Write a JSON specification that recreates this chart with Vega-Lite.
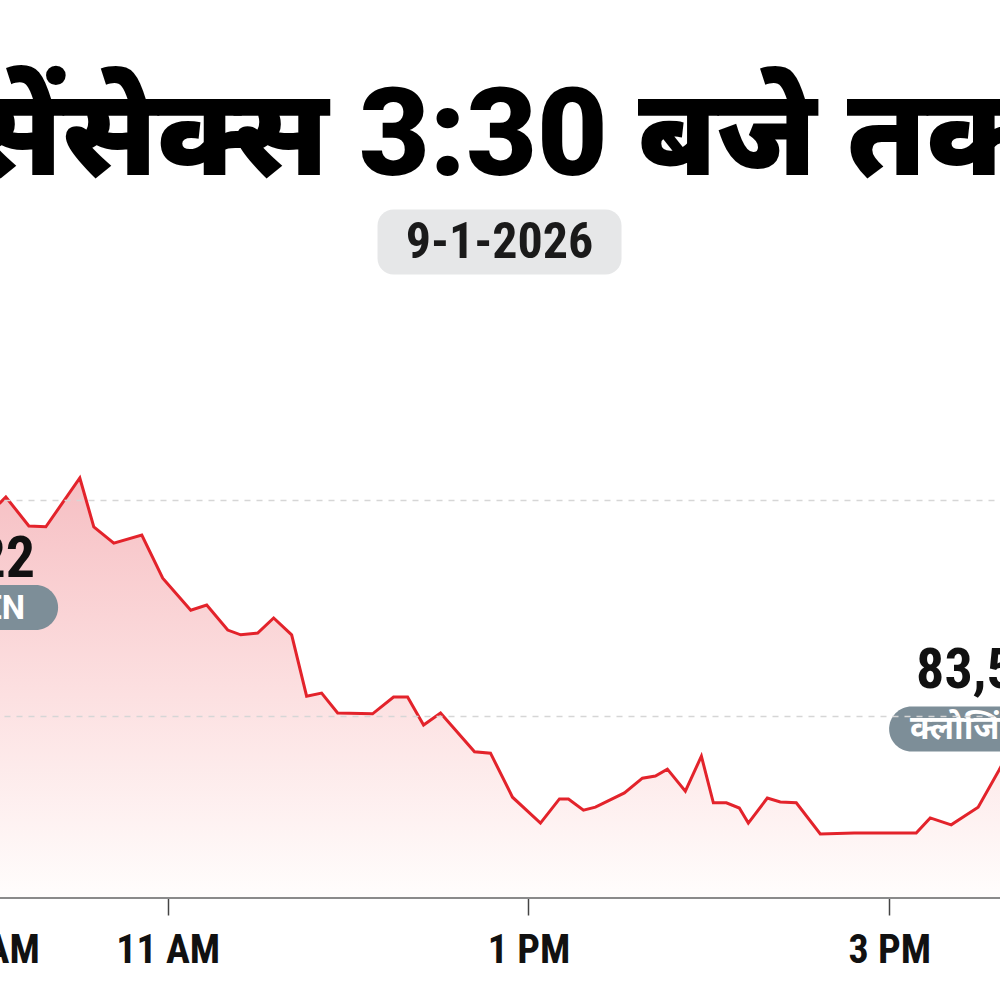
{
  "$schema": "https://vega.github.io/schema/vega-lite/v6.json",
  "autosize": {"type": "none"},
  "width": 1400,
  "height": 597,
  "padding": {"left": -200, "right": -200, "top": 300, "bottom": 103},
  "background": "#ffffff",
  "title": {
    "text": "सेंसेक्स 3:30 बजे तक",
    "font": "Roboto, Noto Sans, sans-serif",
    "fontSize": 122,
    "fontWeight": 900,
    "color": "#000000",
    "anchor": "middle",
    "frame": "group",
    "baseline": "alphabetic",
    "offset": -87
  },
  "datasets": {
    "sensex": [
      {"t": "2026-01-09T09:15:00", "v": 84022},
      {"t": "2026-01-09T09:24:16", "v": 83965},
      {"t": "2026-01-09T09:34:14", "v": 84005},
      {"t": "2026-01-09T09:44:13", "v": 83954},
      {"t": "2026-01-09T09:54:11", "v": 83988},
      {"t": "2026-01-09T10:04:09", "v": 83993},
      {"t": "2026-01-09T10:06:09", "v": 84007},
      {"t": "2026-01-09T10:13:48", "v": 83940},
      {"t": "2026-01-09T10:19:27", "v": 83938},
      {"t": "2026-01-09T10:30:45", "v": 84051},
      {"t": "2026-01-09T10:35:24", "v": 83938},
      {"t": "2026-01-09T10:42:03", "v": 83900},
      {"t": "2026-01-09T10:51:22", "v": 83919},
      {"t": "2026-01-09T10:58:20", "v": 83819},
      {"t": "2026-01-09T11:07:39", "v": 83745},
      {"t": "2026-01-09T11:12:58", "v": 83757},
      {"t": "2026-01-09T11:19:57", "v": 83699},
      {"t": "2026-01-09T11:24:16", "v": 83688},
      {"t": "2026-01-09T11:29:55", "v": 83692},
      {"t": "2026-01-09T11:35:14", "v": 83727},
      {"t": "2026-01-09T11:41:13", "v": 83688},
      {"t": "2026-01-09T11:46:12", "v": 83546},
      {"t": "2026-01-09T11:51:11", "v": 83553},
      {"t": "2026-01-09T11:56:31", "v": 83507},
      {"t": "2026-01-09T12:08:08", "v": 83505},
      {"t": "2026-01-09T12:15:07", "v": 83544},
      {"t": "2026-01-09T12:19:47", "v": 83544},
      {"t": "2026-01-09T12:25:06", "v": 83479},
      {"t": "2026-01-09T12:30:45", "v": 83507},
      {"t": "2026-01-09T12:42:03", "v": 83417},
      {"t": "2026-01-09T12:47:22", "v": 83414},
      {"t": "2026-01-09T12:54:41", "v": 83312},
      {"t": "2026-01-09T13:03:59", "v": 83252},
      {"t": "2026-01-09T13:10:18", "v": 83308},
      {"t": "2026-01-09T13:13:18", "v": 83308},
      {"t": "2026-01-09T13:18:17", "v": 83282},
      {"t": "2026-01-09T13:22:16", "v": 83289},
      {"t": "2026-01-09T13:31:55", "v": 83322},
      {"t": "2026-01-09T13:37:54", "v": 83356},
      {"t": "2026-01-09T13:42:13", "v": 83361},
      {"t": "2026-01-09T13:46:12", "v": 83377},
      {"t": "2026-01-09T13:52:11", "v": 83326},
      {"t": "2026-01-09T13:57:31", "v": 83407},
      {"t": "2026-01-09T14:01:30", "v": 83299},
      {"t": "2026-01-09T14:05:49", "v": 83299},
      {"t": "2026-01-09T14:10:08", "v": 83287},
      {"t": "2026-01-09T14:13:08", "v": 83252},
      {"t": "2026-01-09T14:19:27", "v": 83310},
      {"t": "2026-01-09T14:23:46", "v": 83301},
      {"t": "2026-01-09T14:29:05", "v": 83299},
      {"t": "2026-01-09T14:37:04", "v": 83227},
      {"t": "2026-01-09T14:48:22", "v": 83229},
      {"t": "2026-01-09T15:08:59", "v": 83229},
      {"t": "2026-01-09T15:13:38", "v": 83264},
      {"t": "2026-01-09T15:20:37", "v": 83248},
      {"t": "2026-01-09T15:29:35", "v": 83289},
      {"t": "2026-01-09T15:36:34", "v": 83375},
      {"t": "2026-01-09T15:41:33", "v": 83440},
      {"t": "2026-01-09T15:48:12", "v": 83537}
    ],
    "notes": [
      {"kind": "open", "t": "2026-01-09T09:15:00", "v": 84022, "value": "84,022", "tag": "OPEN"},
      {"kind": "close", "t": "2026-01-09T15:48:12", "v": 83537, "value": "83,576", "tag": "क्लोजिंग"}
    ],
    "dateline": [{"date": "9-1-2026", "t": "2026-01-09T12:50:22", "v": 84597}]
  },
  "encoding": {
    "x": {
      "field": "t",
      "type": "temporal",
      "title": null,
      "scale": {
        "domain": [
          {"year": 2026, "month": 1, "date": 9, "hours": 8, "minutes": 57, "seconds": 40},
          {"year": 2026, "month": 1, "date": 9, "hours": 16, "minutes": 43, "seconds": 23}
        ]
      },
      "axis": {
        "values": [
          {"year": 2026, "month": 1, "date": 9, "hours": 10},
          {"year": 2026, "month": 1, "date": 9, "hours": 11},
          {"year": 2026, "month": 1, "date": 9, "hours": 13},
          {"year": 2026, "month": 1, "date": 9, "hours": 15}
        ],
        "format": "%-I %p",
        "grid": false,
        "domainColor": "#8a8a8a",
        "domainWidth": 3,
        "tickColor": "#444444",
        "tickWidth": 1.5,
        "tickSize": 18,
        "labelFont": "Roboto Condensed, Liberation Sans Narrow, DejaVu Sans Condensed, sans-serif",
        "labelFontSize": 40,
        "labelFontWeight": "bold",
        "labelColor": "#111111",
        "labelPadding": 15,
        "labelOverlap": false,
        "labelFlush": false
      }
    },
    "y": {
      "field": "v",
      "type": "quantitative",
      "title": null,
      "scale": {"domain": [83081, 84463], "zero": false, "nice": false},
      "axis": {
        "values": [83500, 84000],
        "labels": false,
        "ticks": false,
        "domain": false,
        "grid": true,
        "gridColor": "#d6d6d6",
        "gridDash": [6, 6],
        "gridWidth": 1.5,
        "zindex": 1
      }
    }
  },
  "layer": [
    {
      "data": {"name": "sensex"},
      "mark": {
        "type": "area",
        "color": {
          "gradient": "linear",
          "x1": 0, "y1": 0, "x2": 0, "y2": 1,
          "stops": [
            {"offset": 0, "color": "#f6bfc3"},
            {"offset": 0.5, "color": "#fcdfe0"},
            {"offset": 1, "color": "#fffdfc"}
          ]
        }
      },
      "encoding": {"y2": {"datum": 83081}}
    },
    {
      "data": {"name": "sensex"},
      "mark": {"type": "line", "color": "#e3232b", "strokeWidth": 3, "strokeJoin": "miter"}
    },
    {
      "data": {"name": "notes"},
      "transform": [{"filter": "datum.kind == 'open'"}],
      "layer": [
        {
          "mark": {"type": "text", "align": "right", "baseline": "alphabetic", "dx": 183, "dy": 86, "font": "Roboto Condensed, Liberation Sans Narrow, DejaVu Sans Condensed, sans-serif", "fontSize": 58, "fontWeight": "bold", "color": "#111111"},
          "encoding": {"text": {"field": "value"}}
        },
        {
          "mark": {"type": "point", "filled": true, "opacity": 1, "strokeWidth": 0, "color": "#7d8e98", "size": 19600, "xOffset": 136, "yOffset": 117,
            "shape": "M -0.6786,-0.3214 L 0.6786,-0.3214 C 0.8561,-0.3214 1,-0.1775 1,0 C 1,0.1775 0.8561,0.3214 0.6786,0.3214 L -0.6786,0.3214 C -0.8561,0.3214 -1,0.1775 -1,0 C -1,-0.1775 -0.8561,-0.3214 -0.6786,-0.3214 Z"}
        },
        {
          "mark": {"type": "text", "align": "right", "baseline": "middle", "dx": 173, "dy": 118, "font": "Roboto, sans-serif", "fontSize": 33, "fontWeight": "bold", "color": "#ffffff"},
          "encoding": {"text": {"field": "tag"}}
        }
      ]
    },
    {
      "data": {"name": "notes"},
      "transform": [{"filter": "datum.kind == 'close'"}],
      "layer": [
        {
          "mark": {"type": "text", "align": "left", "baseline": "alphabetic", "dx": -118, "dy": -12, "font": "Roboto Condensed, Liberation Sans Narrow, DejaVu Sans Condensed, sans-serif", "fontSize": 56, "fontWeight": "bold", "color": "#111111"},
          "encoding": {"text": {"field": "value"}}
        },
        {
          "mark": {"type": "point", "filled": true, "opacity": 1, "strokeWidth": 0, "color": "#7d8e98", "size": 19600, "xOffset": -75, "yOffset": 29,
            "shape": "M -0.6786,-0.3214 L 0.6786,-0.3214 C 0.8561,-0.3214 1,-0.1775 1,0 C 1,0.1775 0.8561,0.3214 0.6786,0.3214 L -0.6786,0.3214 C -0.8561,0.3214 -1,0.1775 -1,0 C -1,-0.1775 -0.8561,-0.3214 -0.6786,-0.3214 Z"}
        },
        {
          "mark": {"type": "text", "align": "left", "baseline": "middle", "dx": -124, "dy": 29, "font": "Noto Sans, sans-serif", "fontSize": 33, "fontWeight": "bold", "color": "#ffffff"},
          "encoding": {"text": {"field": "tag"}}
        }
      ]
    },
    {
      "data": {"name": "dateline"},
      "layer": [
        {
          "mark": {"type": "point", "filled": true, "opacity": 1, "strokeWidth": 0, "color": "#e6e7e8", "size": 59536,
            "shape": "M -0.8689,-0.2664 L 0.8689,-0.2664 C 0.9413,-0.2664 1,-0.2077 1,-0.1353 L 1,0.1353 C 1,0.2077 0.9413,0.2664 0.8689,0.2664 L -0.8689,0.2664 C -0.9413,0.2664 -1,0.2077 -1,0.1353 L -1,-0.1353 C -1,-0.2077 -0.9413,-0.2664 -0.8689,-0.2664 Z"}
        },
        {
          "mark": {"type": "text", "align": "center", "baseline": "middle", "dy": 1, "font": "Roboto Condensed, Liberation Sans Narrow, DejaVu Sans Condensed, sans-serif", "fontSize": 50, "fontWeight": "bold", "color": "#1a1a1a"},
          "encoding": {"text": {"field": "date"}}
        }
      ]
    }
  ],
  "config": {"view": {"stroke": null}}
}
